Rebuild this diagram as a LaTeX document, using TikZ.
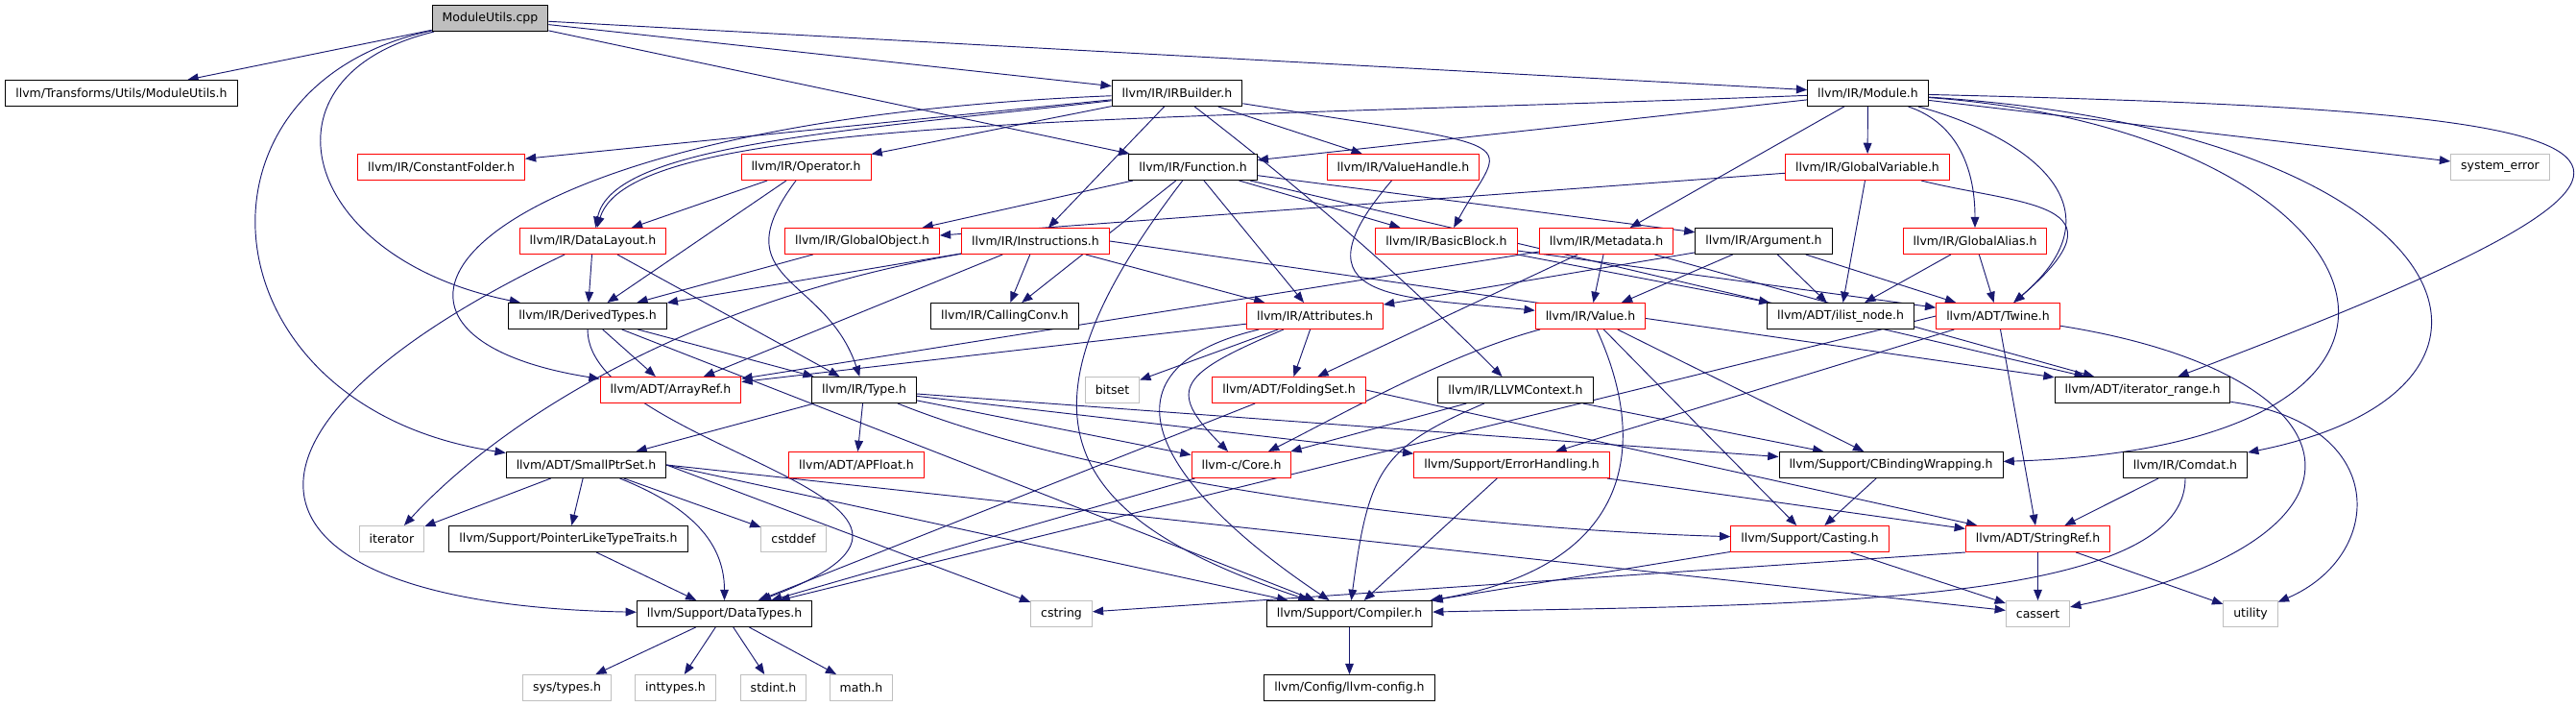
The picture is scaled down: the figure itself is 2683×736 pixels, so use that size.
\documentclass[tikz,border=0pt]{standalone}
\usepackage{fontspec}
\setmainfont{DejaVu Sans}
\usetikzlibrary{arrows.meta,backgrounds}
\definecolor{EdgeBlue}{HTML}{191970}
\definecolor{NodeGray}{HTML}{BFBFBF}

\begin{document}
\begin{tikzpicture}[x=0.8pt,y=-0.8pt,
    hdr/.style={draw=black,fill=white,line width=0.8pt,minimum height=21.6pt,inner xsep=8.4pt,inner ysep=0pt,font=\fontsize{10}{12}\selectfont},
    cut/.style={hdr,draw=red},
    sys/.style={hdr,draw=NodeGray},
    edge/.style={draw=EdgeBlue,line width=0.75pt,-{Triangle[length=9pt,width=7pt]}}]
  \useasboundingbox (0,0) rectangle (2683,736);

  \node[hdr,fill=NodeGray] (cpp) at (510.5,19) {ModuleUtils.cpp};

  \node[hdr] (modh) at (126.5,97) {llvm/Transforms/Utils/ModuleUtils.h};
  \node[hdr] (irb) at (1226,97) {llvm/IR/IRBuilder.h};
  \node[hdr] (mod) at (1945.5,97) {llvm/IR/Module.h};

  \node[cut] (cfold) at (459.5,174) {llvm/IR/ConstantFolder.h};
  \node[cut] (oper) at (839.5,174) {llvm/IR/Operator.h};
  \node[hdr] (func) at (1242.5,174) {llvm/IR/Function.h};
  \node[cut] (vh) at (1461.5,174) {llvm/IR/ValueHandle.h};
  \node[cut] (gvar) at (1945,174) {llvm/IR/GlobalVariable.h};
  \node[sys] (syserr) at (2604,174) {system\_error};

  \node[cut] (dl) at (617.5,251) {llvm/IR/DataLayout.h};
  \node[cut] (gobj) at (898,251) {llvm/IR/GlobalObject.h};
  \node[cut] (instr) at (1078.5,251) {llvm/IR/Instructions.h};
  \node[cut] (bb) at (1506.5,251) {llvm/IR/BasicBlock.h};
  \node[cut] (meta) at (1673,251) {llvm/IR/Metadata.h};
  \node[hdr] (arg) at (1837,251) {llvm/IR/Argument.h};
  \node[cut] (galias) at (2057,251) {llvm/IR/GlobalAlias.h};

  \node[hdr] (dty) at (612,329) {llvm/IR/DerivedTypes.h};
  \node[hdr] (cc) at (1046.5,329) {llvm/IR/CallingConv.h};
  \node[cut] (attr) at (1369.5,329) {llvm/IR/Attributes.h};
  \node[cut] (val) at (1656.5,329) {llvm/IR/Value.h};
  \node[hdr] (ilist) at (1917,329) {llvm/ADT/ilist\_node.h};
  \node[cut] (twine) at (2081,329) {llvm/ADT/Twine.h};

  \node[cut] (aref) at (698.5,406) {llvm/ADT/ArrayRef.h};
  \node[hdr] (type) at (900,406) {llvm/IR/Type.h};
  \node[sys] (bitset) at (1158.5,406) {bitset};
  \node[cut] (fset) at (1342.5,406) {llvm/ADT/FoldingSet.h};
  \node[hdr] (ctx) at (1578.5,406) {llvm/IR/LLVMContext.h};
  \node[hdr] (itr) at (2231.5,406) {llvm/ADT/iterator\_range.h};

  \node[hdr] (sps) at (610.5,484) {llvm/ADT/SmallPtrSet.h};
  \node[cut] (apf) at (892,484) {llvm/ADT/APFloat.h};
  \node[cut] (core) at (1293,484) {llvm-c/Core.h};
  \node[cut] (errh) at (1574.5,484) {llvm/Support/ErrorHandling.h};
  \node[hdr] (cbw) at (1969.5,484) {llvm/Support/CBindingWrapping.h};
  \node[hdr] (comdat) at (2276,484) {llvm/IR/Comdat.h};

  \node[sys] (iter) at (408,561) {iterator};
  \node[hdr] (pltt) at (592,561) {llvm/Support/PointerLikeTypeTraits.h};
  \node[sys] (cstddef) at (826.5,561) {cstddef};
  \node[cut] (cast) at (1885,561) {llvm/Support/Casting.h};
  \node[cut] (sref) at (2122.5,561) {llvm/ADT/StringRef.h};

  \node[hdr] (dtypes) at (754.5,639) {llvm/Support/DataTypes.h};
  \node[sys] (cstring) at (1105.5,639) {cstring};
  \node[hdr] (comp) at (1405.5,639) {llvm/Support/Compiler.h};
  \node[sys] (cassert) at (2122.5,639) {cassert};
  \node[sys] (util) at (2344,639) {utility};

  \node[sys] (systypes) at (590.5,716) {sys/types.h};
  \node[sys] (inttypes) at (703.5,716) {inttypes.h};
  \node[sys] (stdint) at (805.5,716) {stdint.h};
  \node[sys] (math) at (897,716) {math.h};
  \node[hdr] (cfg) at (1405.5,716) {llvm/Config/llvm-config.h};

  \begin{scope}[on background layer]
    \foreach \a/\b in {cpp/modh, cpp/irb, cpp/mod, cpp/func,
        irb/cfold, irb/oper, irb/vh, irb/instr,
        mod/func, mod/gvar, mod/syserr, mod/meta,
        oper/dl, oper/dty,
        func/gobj, func/bb, func/arg, func/cc, func/attr, func/itr,
        gvar/gobj, gvar/ilist, dl/dty, dl/type, gobj/dty,
        instr/dty, instr/cc, instr/attr, instr/aref, instr.east/itr,
        bb/ilist, bb/twine,
        meta/val, meta/aref, meta/fset, meta/itr,
        arg/attr, arg/val, arg/ilist, arg/twine,
        galias/ilist, galias/twine,
        dty/type, dty/aref, dty/comp,
        attr/aref, attr/fset, attr/bitset,
        val/cast, val/cbw,
        twine/sref, twine/errh, twine.west/dtypes,
        type/apf, type/sps, type/core, type/errh, type/cbw,
        fset/dtypes, fset.east/sref, ctx/core, ctx/cbw,
        sps/iter, sps/pltt, sps/cstddef, sps.east/cstring, sps.east/comp, sps.east/cassert,
        core/dtypes, errh/comp, errh/sref, cbw/cast, comdat/sref, pltt/dtypes,
        cast/comp, cast/cassert, sref/cassert, sref/util, sref.south west/cstring,
        dtypes/systypes, dtypes/inttypes, dtypes/stdint, dtypes/math, comp/cfg}
      \draw[edge] (\a) -- (\b);

    \draw[edge] (cpp) .. controls +(-330,70) and +(-400,-60) .. (sps);
    \draw[edge] (cpp) .. controls +(-250,60) and +(-300,-60) .. (dty);
    \draw[edge] (irb) .. controls +(-350,40) and +(20,-100) .. (dl);
    \draw[edge] (irb) .. controls +(-750,30) and +(-380,-60) .. (aref);
    \draw[edge] (irb) .. controls +(380,60) and +(60,-110) .. (bb);
    \draw[edge] (irb) .. controls +(130,100) and +(-120,-120) .. (ctx);
    \draw[edge] (mod) .. controls +(-800,30) and +(40,-130) .. (dl);
    \draw[edge] (mod) .. controls +(90,30) and +(0,-80) .. (galias);
    \draw[edge] (mod) .. controls +(150,40) and +(140,-120) .. (twine);
    \draw[edge] (mod) .. controls +(860,20) and +(660,-250) .. (itr);
    \draw[edge] (mod) .. controls +(620,40) and +(400,-80) .. (comdat);
    \draw[edge] (mod) .. controls +(550,40) and +(650,-20) .. (cbw);
    \draw[edge] (gvar) .. controls +(160,40) and +(140,-120) .. (twine);
    \draw[edge] (vh) .. controls +(-120,140) and +(-200,-20) .. (val);
    \draw[edge] (oper) .. controls +(-90,120) and +(-40,-120) .. (type);
    \draw[edge] (func) .. controls +(-200,260) and +(-300,-100) .. (comp);
    \draw[edge] (instr) .. controls +(-350,60) and +(120,-130) .. (iter);
    \draw[edge] (dl) .. controls +(-420,200) and +(-520,-10) .. (dtypes);
    \draw[edge] (dty) .. controls +(0,140) and +(320,-120) .. (dtypes);
    \draw[edge] (attr) .. controls +(-140,60) and +(-80,-80) .. (core);
    \draw[edge] (attr) .. controls +(-250,60) and +(-180,-120) .. (comp);
    \draw[edge] (val) .. controls +(-150,40) and +(100,-50) .. (core);
    \draw[edge] (val) .. controls +(60,130) and +(300,-50) .. (comp);
    \draw[edge] (twine) .. controls +(380,60) and +(380,-80) .. (cassert);
    \draw[edge] (ctx) .. controls +(-140,60) and +(20,-150) .. (comp);
    \draw[edge] (type) .. controls +(250,100) and +(-350,-10) .. (cast);
    \draw[edge] (sps) .. controls +(100,40) and +(0,-80) .. (dtypes);
    \draw[edge] (itr) .. controls +(260,35) and +(140,-60) .. (util);
    \draw[edge] (comdat) .. controls +(0,150) and +(450,-10) .. (comp);
  \end{scope}
\end{tikzpicture}
\end{document}
